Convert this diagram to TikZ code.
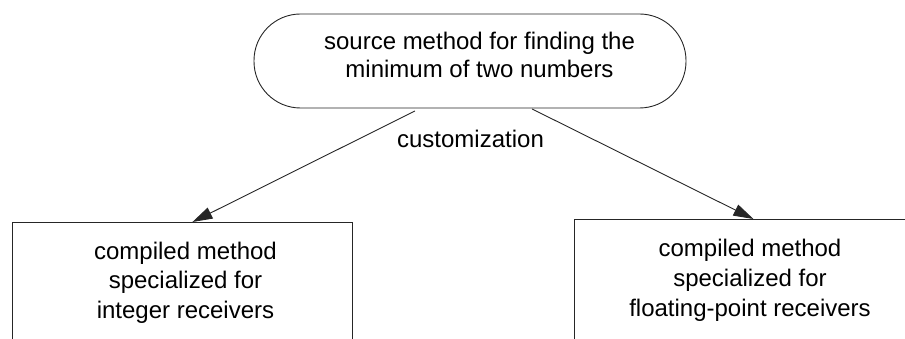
\documentclass[tikz,border=0pt]{standalone}
\usepackage{fontspec}
\setmainfont{Liberation Sans}
\usetikzlibrary{arrows.meta,calc}

\begin{document}
\begin{tikzpicture}[x=1pt,y=-1pt,
  outline/.style={draw=black!85,line width=0.9pt,inner sep=0pt},
  txt/.style={align=center,inner sep=0pt,anchor=base,
    font=\fontsize{24}{29.5}\selectfont},
  arr/.style={draw=black!85,line width=0.9pt,
    -{Triangle[length=20pt,width=12pt]}}]
  \useasboundingbox (0,0) rectangle (905,339);
  \clip (0,0) rectangle (905,339);

  % source method (rounded terminator)
  \node[outline,rounded corners=46.5pt,minimum width=432pt,minimum height=94pt]
    (src) at (470,61) {};
  % multi-line text: the base anchor sits on the last line
  \node[txt,font=\fontsize{24}{28}\selectfont] (srctext) at (479.5,78)
    {source method for finding the\\minimum of two numbers};

  % compiled methods (boxes run past the lower edge)
  \node[outline,anchor=north west,minimum width=340pt,minimum height=160pt]
    (lbox) at (12,222) {};
  \node[outline,anchor=north west,minimum width=340pt,minimum height=160pt]
    (rbox) at (574,219) {};
  \node[txt] (ltext) at (185.5,318)
    {compiled method\\specialized for\\integer receivers};
  \node[txt] (rtext) at (750,316)
    {compiled method\\specialized for\\floating-point receivers};

  % customization arrows
  \coordinate (lstart) at ($(src.south)+(-55,2.5)$);
  \coordinate (rstart) at ($(src.south)+(62,0.5)$);
  \draw[arr] (lstart) -- ($(lbox.north)+(10,0)$);
  \draw[arr] (rstart) -- ($(rbox.north)+(9,0)$);
  \node[txt] (custom) at (470.5,148) {customization};
\end{tikzpicture}
\end{document}
